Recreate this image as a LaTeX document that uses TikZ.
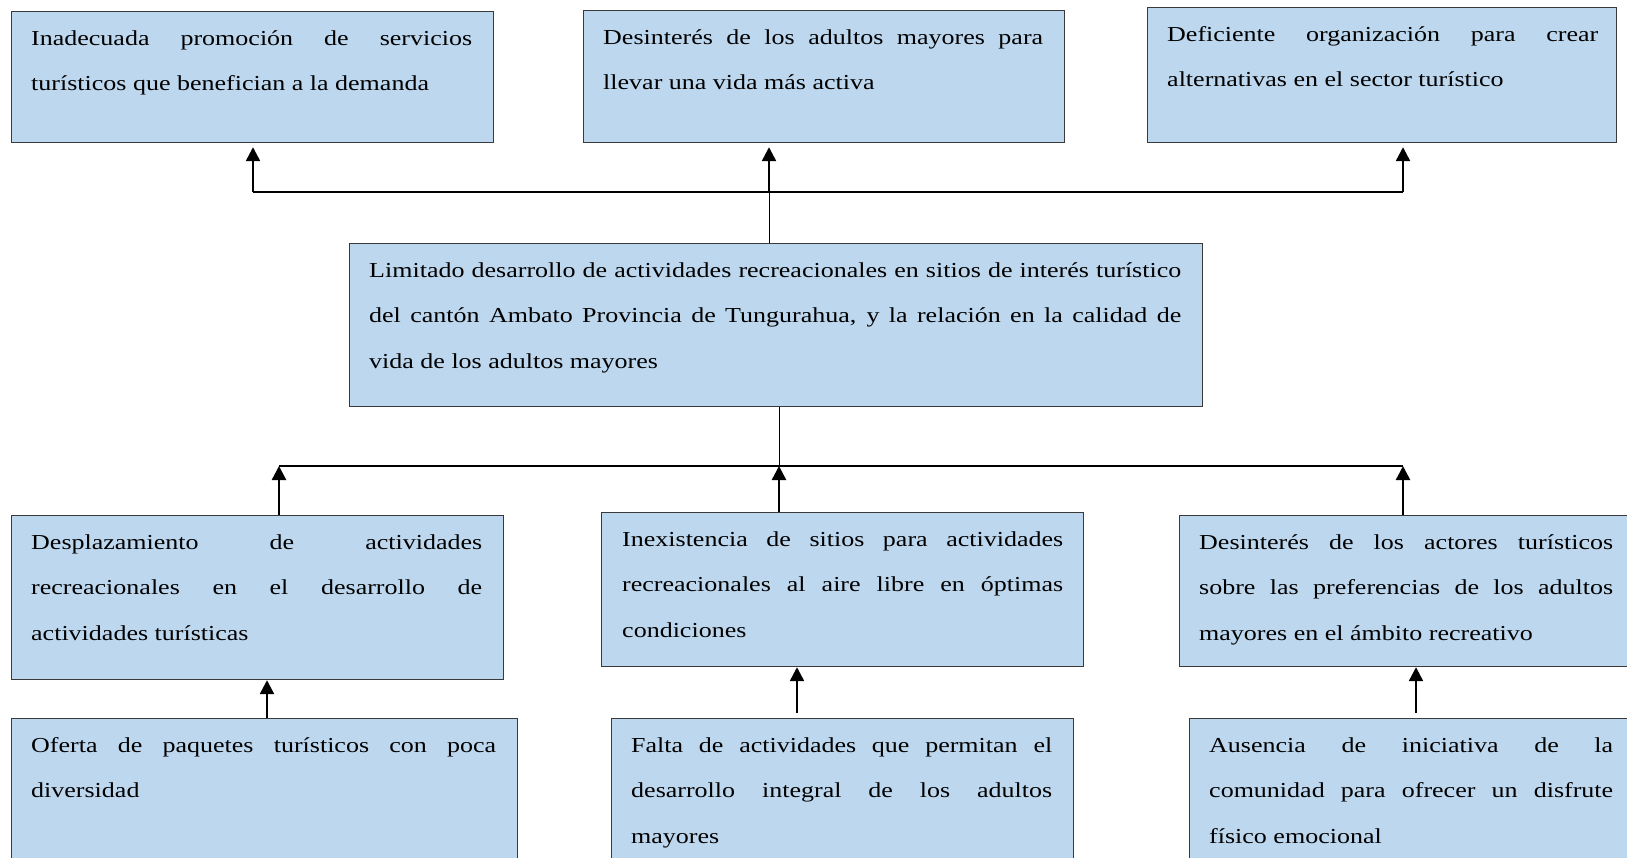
\documentclass[tikz,border=0pt]{standalone}
\usepackage{fontspec}
\setmainfont{Liberation Serif}
\usepackage{graphicx}
\usetikzlibrary{arrows.meta,calc}
\definecolor{boxblue}{HTML}{BDD7EE}
\definecolor{boxedge}{HTML}{3A3A3A}
\tikzset{
  box/.style={draw=boxedge, fill=boxblue, line width=1.2pt, inner sep=0pt, anchor=north west},
  txt/.style={anchor=north west, inner sep=0pt},
  thinline/.style={line width=1.2pt},
  vline/.style={line width=1pt},
  arr/.style={line width=2.4pt, -{Triangle[width=14pt,length=14pt]}},
}
\newcommand{\boxtext}[2]{\scalebox{1}[0.82]{\parbox[t]{#1pt}{\fontsize{26}{55.7}\selectfont\rule{0pt}{41.5pt}#2}}}
\begin{document}
\begin{tikzpicture}[x=1pt,y=-1pt]
\useasboundingbox (0,0) rectangle (1627,857);
\fill[white] (0,0) rectangle (1627,857);
\clip (0,0) rectangle (1627,857);

% top row
\node[box, minimum width=482pt, minimum height=131pt] (b1) at (11,11) {};
\node[box, minimum width=481pt, minimum height=132pt] (b2) at (583,10) {};
\node[box, minimum width=469pt, minimum height=135pt] (b3) at (1147,7) {};
% central
\node[box, minimum width=853pt, minimum height=163pt] (c) at (349,243) {};
% middle row
\node[box, minimum width=492pt, minimum height=164pt] (m1) at (11,515) {};
\node[box, minimum width=482pt, minimum height=154pt] (m2) at (601,512) {};
\node[box, minimum width=461pt, minimum height=151pt] (m3) at (1179,515) {};
% bottom row
\node[box, minimum width=506pt, minimum height=152pt] (l1) at (11,718) {};
\node[box, minimum width=462pt, minimum height=152pt] (l2) at (611,718) {};
\node[box, minimum width=451pt, minimum height=152pt] (l3) at (1189,718) {};

% texts
\node[txt] (t1) at ($(b1.north west)+(20,0)$) {\boxtext{441}{Inadecuada promoción de servicios\linebreak turísticos que benefician a la demanda}};
\node[txt] (t2) at ($(b2.north west)+(20,0)$) {\boxtext{440}{Desinterés de los adultos mayores para\linebreak llevar una vida más activa}};
\node[txt] (t3) at ($(b3.north west)+(20,0)$) {\boxtext{431}{Deficiente organización para crear\linebreak alternativas en el sector turístico}};
\node[txt] (tc) at ($(c.north west)+(20,0)$) {\boxtext{812}{Limitado desarrollo de actividades recreacionales en sitios de interés turístico\linebreak del cantón Ambato Provincia de Tungurahua, y la relación en la calidad de\linebreak vida de los adultos mayores}};
\node[txt] (tm1) at ($(m1.north west)+(20,0)$) {\boxtext{451}{Desplazamiento de actividades\linebreak recreacionales en el desarrollo de\linebreak actividades turísticas}};
\node[txt] (tm2) at ($(m2.north west)+(21,0)$) {\boxtext{441}{Inexistencia de sitios para actividades\linebreak recreacionales al aire libre en óptimas\linebreak condiciones}};
\node[txt] (tm3) at ($(m3.north west)+(20,0)$) {\boxtext{414}{Desinterés de los actores turísticos\linebreak sobre las preferencias de los adultos\linebreak mayores en el ámbito recreativo}};
\node[txt] (tl1) at ($(l1.north west)+(20,0)$) {\boxtext{465}{Oferta de paquetes turísticos con poca\linebreak diversidad}};
\node[txt] (tl2) at ($(l2.north west)+(20,0)$) {\boxtext{421}{Falta de actividades que permitan el\linebreak desarrollo integral de los adultos\linebreak mayores}};
\node[txt] (tl3) at ($(l3.north west)+(20,0)$) {\boxtext{404}{Ausencia de iniciativa de la\linebreak comunidad para ofrecer un disfrute\linebreak físico emocional}};

% top connectors
\coordinate (tL) at (253,192);
\coordinate (tM) at (769,192);
\coordinate (tR) at (1403,192);
\draw[thinline] (tL) -- (tR);
\draw[vline] (c.north -| tM) -- (tM);
\draw[arr, shorten >=4pt] (tL) -- (b1.south -| tL);
\draw[arr, shorten >=4pt] (tM) -- (b2.south -| tM);
\draw[arr, shorten >=4pt] (tR) -- (b3.south -| tR);

% middle connectors
\coordinate (mL) at (279,466);
\coordinate (mM) at (779,466);
\coordinate (mR) at (1403,466);
\draw[vline] (c.south -| mM) -- (mM);
\draw[thinline] (mL) -- (mR);
\draw[arr] (m1.north -| mL) -- (mL);
\draw[arr] (m2.north -| mM) -- (mM);
\draw[arr] (m3.north -| mR) -- (mR);

% bottom connectors
\coordinate (xL) at (267,0);
\coordinate (xM) at (797,0);
\coordinate (xR) at (1416,0);
\draw[arr] (l1.north -| xL) -- (m1.south -| xL);
\draw[arr, shorten <=5pt] (l2.north -| xM) -- (m2.south -| xM);
\draw[arr, shorten <=5pt] (l3.north -| xR) -- (m3.south -| xR);
\end{tikzpicture}
\end{document}
